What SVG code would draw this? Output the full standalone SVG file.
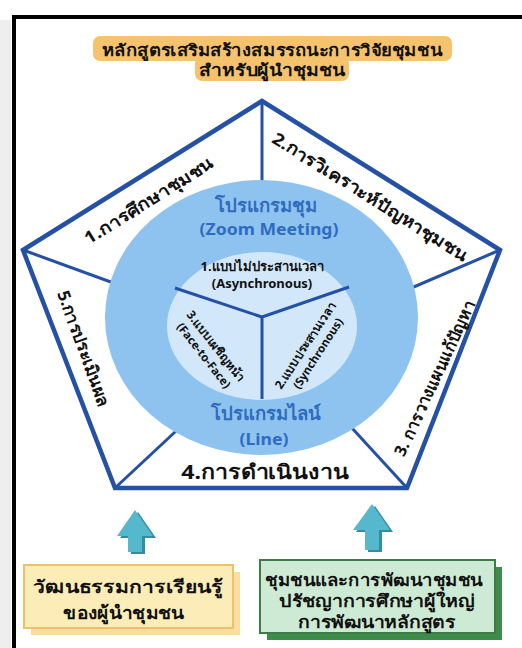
<svg xmlns="http://www.w3.org/2000/svg" width="522" height="648" viewBox="0 0 522 648">
<style>
.t{font-family:"Noto Sans","DejaVu Sans","Liberation Sans",sans-serif;font-weight:bold;fill:#111;text-anchor:middle;dominant-baseline:central;}
.b{fill:#2E6CBF;}
.edge{stroke:#2450A6;stroke-width:3;fill:none;}
</style>
<rect x="0" y="0" width="522" height="648" fill="#fff"/>
<rect x="0" y="20" width="11" height="628" fill="#EEEEEE"/>
<rect x="14" y="17" width="520" height="640" fill="#fff" stroke="#000" stroke-width="4"/>
<g id="title">
<rect x="93" y="36" width="359" height="25" rx="7" fill="#F5C26E"/>
<rect x="195" y="56" width="154" height="25" rx="7" fill="#F5C26E"/>
<text class="t" transform="translate(272,49) scale(1.12,1)" font-size="16.5">หลักสูตรเสริมสร้างสมรรถนะการวิจัยชุมชน</text>
<text class="t" transform="translate(272,70) scale(1.17,1)" font-size="16.5">สำหรับผู้นำชุมชน</text>
</g>
<g id="pentagon">
<polygon points="262,101 500,250 407,488 115,488 23,250" fill="#fff" stroke="#2450A6" stroke-width="4.5" stroke-linejoin="miter"/>
</g>
<g id="connectors">
<line class="edge" x1="262" y1="101" x2="262" y2="200"/>
<line class="edge" x1="23" y1="250" x2="130" y2="289"/>
<line class="edge" x1="500" y1="250" x2="395" y2="295"/>
<line class="edge" x1="115" y1="488" x2="190" y2="418"/>
<line class="edge" x1="407" y1="488" x2="340" y2="415"/>
</g>
<g id="programs">
<ellipse cx="261.5" cy="317.5" rx="156.5" ry="137.5" fill="#8EC3F0"/>
<text class="t b" x="266" y="204" font-size="18.5">โปรแกรมชุม</text>
<text class="t b" transform="translate(269,229) scale(1.1,1)" font-size="16">(Zoom Meeting)</text>
<text class="t b" x="266" y="412" font-size="18.5">โปรแกรมไลน์</text>
<text class="t b" transform="translate(264,439) scale(1.1,1)" font-size="16">(Line)</text>
</g>
<g id="modes">
<ellipse cx="262" cy="326" rx="95" ry="74" fill="#D2E8FA"/>
<line class="edge" x1="262" y1="317" x2="175" y2="288"/>
<line class="edge" x1="262" y1="317" x2="349" y2="287"/>
<line class="edge" x1="262" y1="317" x2="262" y2="399"/>
<text class="t" x="262" y="266" font-size="13">1.แบบไม่ประสานเวลา</text>
<text class="t" transform="translate(262,284) scale(1.13,1)" font-size="11.5">(Asynchronous)</text>
<g transform="translate(216,346) rotate(52)">
<text class="t" x="0" y="0" font-size="12">3.แบบเผชิญหน้า</text>
<text class="t" x="0" y="15" font-size="11.5">(Face-to-Face)</text>
</g>
<g transform="translate(305,345) rotate(-57)">
<text class="t" x="0" y="0" font-size="12">2.แบบประสานเวลา</text>
<text class="t" x="0" y="15" font-size="11.5">(Synchronous)</text>
</g>
</g>
<g id="step1"><text class="t" transform="translate(148,200) rotate(-32) scale(1.13,1)" font-size="17">1.การศึกษาชุมชน</text></g>
<g id="step2"><text class="t" transform="translate(370,196) rotate(32) scale(1.13,1)" font-size="17">2.การวิเคราะห์ปัญหาชุมชน</text></g>
<g id="step3"><text class="t" transform="translate(434,378) rotate(-65)" font-size="16.5">3. การวางแผนแก้ปัญหา</text></g>
<g id="step4"><text class="t" transform="translate(265,471) scale(1.16,1)" font-size="20">4.การดำเนินงาน</text></g>
<g id="step5"><text class="t" transform="translate(84,348) rotate(70)" font-size="17">5.การประเมินผล</text></g>
<g id="arrow-left">
<polygon points="138,512 156,538 145,538 145,554 131,554 131,538 120,538" fill="#2F8EA3"/>
<polygon points="135,510 153,536 142,536 142,552 128,552 128,536 117,536" fill="#55B8CC"/>
</g>
<g id="arrow-right">
<polygon points="375,506 393,532 382,532 382,552 368,552 368,532 356,532" fill="#2F8EA3"/>
<polygon points="372,504 390,530 379,530 379,550 365,550 365,530 353,530" fill="#55B8CC"/>
</g>
<g id="box-culture">
<rect x="31" y="572" width="209" height="63" fill="#F8DFA0"/>
<rect x="24" y="565" width="209" height="63" fill="#FCEDB8" stroke="#EFC06A" stroke-width="2"/>
<text class="t" transform="translate(128,586) scale(1.17,1)" font-size="18">วัฒนธรรมการเรียนรู้</text>
<text class="t" transform="translate(124,612) scale(1.06,1)" font-size="18">ของผู้นำชุมชน</text>
</g>
<g id="box-community">
<rect x="267" y="567" width="235" height="73" fill="#3E8B4C"/>
<rect x="260" y="560" width="235" height="73" fill="#CDEBD4" stroke="#3A7D45" stroke-width="2"/>
<text class="t" transform="translate(374,579) scale(1.09,1)" font-size="17">ชุมชนและการพัฒนาชุมชน</text>
<text class="t" transform="translate(377,600) scale(1.15,1)" font-size="17">ปรัชญาการศึกษาผู้ใหญ่</text>
<text class="t" transform="translate(377,621) scale(1.14,1)" font-size="17">การพัฒนาหลักสูตร</text>
</g>
</svg>
